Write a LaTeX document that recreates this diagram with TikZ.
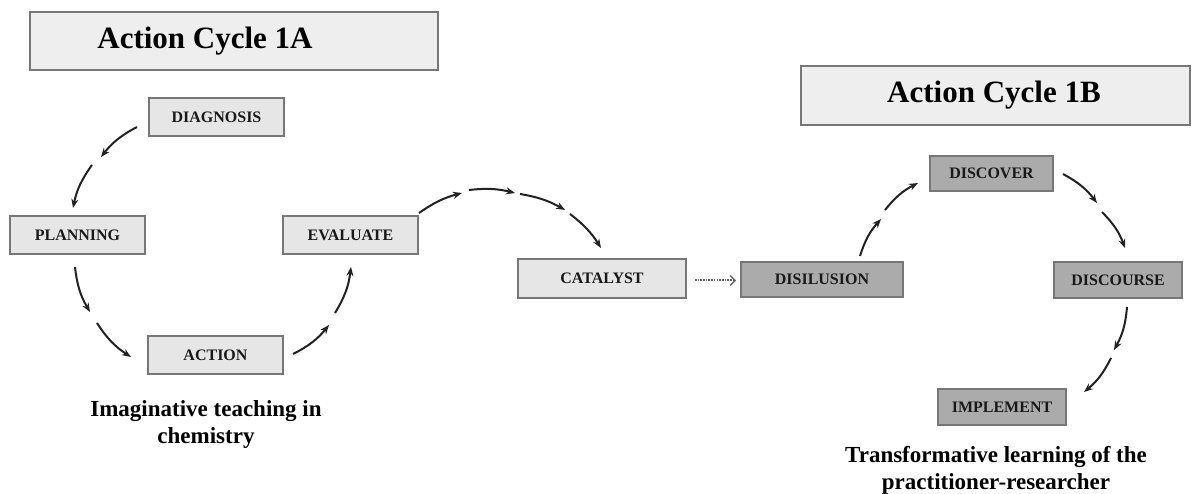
\documentclass[tikz,border=0pt]{standalone}
\usepackage{fontspec}
\setmainfont{Liberation Serif}
\usetikzlibrary{arrows.meta,calc}
\definecolor{lightbox}{HTML}{E6E6E6}
\definecolor{titlebox}{HTML}{EEEEEE}
\definecolor{darkbox}{HTML}{ABABAB}
\definecolor{edgegray}{HTML}{777777}
\definecolor{ink}{HTML}{222222}
\tikzset{
  stepbox/.style={draw=edgegray, line width=1.9pt, fill=lightbox, inner sep=0pt,
     font=\fontsize{16}{18}\selectfont\bfseries, text=black!90},
  darkstep/.style={stepbox, fill=darkbox},
  titlebox/.style={draw=edgegray, line width=1.9pt, fill=titlebox, inner sep=0pt},
  titletext/.style={font=\fontsize{31}{35}\selectfont\bfseries, text=black},
  subtext/.style={font=\fontsize{23}{27}\selectfont\bfseries, align=center, text=black},
  arr/.style={draw=ink, line width=2pt, -{Stealth[length=9pt,width=7pt]}},
  dotarr/.style={draw=black!60, line width=2pt, dash pattern=on 1.6pt off 1.1pt, -{Straight Barb[length=5pt,width=10pt,line width=1.3pt]}}
}
\begin{document}
\begin{tikzpicture}[x=1pt,y=1pt]
\useasboundingbox (0,0) rectangle (1192,-494);
% titles
\node[titlebox, minimum width=408, minimum height=58] (t1a) at (234,-41) {};
\node[titletext] (t1atxt) at (205,-41) {Action Cycle 1A};
\node[titlebox, minimum width=389, minimum height=59] (t1b) at (995.5,-95.5) {};
\node[titletext] (t1btxt) at (994,-95) {Action Cycle 1B};
% cycle 1A
\node[stepbox, minimum width=135, minimum height=38] (diag) at (216.5,-117) {DIAGNOSIS};
\node[stepbox, minimum width=135, minimum height=38] (plan) at (77.5,-235) {PLANNING};
\node[stepbox, minimum width=135, minimum height=38] (eval) at (350.5,-235) {EVALUATE};
\node[stepbox, minimum width=135, minimum height=38] (act) at (215.5,-355) {ACTION};
\node[stepbox, minimum width=168, minimum height=39] (cat) at (602,-278.5) {CATALYST};
% cycle 1B
\node[darkstep, minimum width=162, minimum height=35] (dis) at (822,-279.5) {DISILUSION};
\node[darkstep, minimum width=123, minimum height=35] (disc) at (991.5,-173.5) {DISCOVER};
\node[darkstep, minimum width=128, minimum height=36] (dcrs) at (1118,-280) {DISCOURSE};
\node[darkstep, minimum width=128, minimum height=36] (impl) at (1002,-407) {IMPLEMENT};
% captions
\node[subtext] (cap1) at (206,-425) {Imaginative teaching in\\chemistry};
\node[subtext] (cap2) at (996,-470) {Transformative learning of the\\practitioner-researcher};
% connector points
\coordinate (a1a) at (137,-127); \coordinate (a1b) at (101,-157);
\coordinate (a1c) at (92,-165);  \coordinate (a1d) at (73,-208);
\coordinate (a2a) at (75,-267);  \coordinate (a2b) at (90,-312);
\coordinate (a2c) at (97,-323);  \coordinate (a2d) at (131,-357);
\coordinate (a3a) at (293,-354); \coordinate (a3b) at (329,-325);
\coordinate (a3c) at (335,-313); \coordinate (a3d) at (351,-267);
\coordinate (a4a) at (419,-213); \coordinate (a4b) at (462,-193);
\coordinate (a4c) at (469,-190); \coordinate (a4d) at (515,-193);
\coordinate (a4e) at (520,-194); \coordinate (a4f) at (565,-210);
\coordinate (a4g) at (570,-214); \coordinate (a4h) at (601,-248);
\coordinate (a5a) at ($(cat.east)+(8,-2)$);
\coordinate (a5b) at ($(dis.west)+(-4,-1)$);
\coordinate (a6a) at (860,-256); \coordinate (a6b) at (881,-219);
\coordinate (a6c) at (885,-210); \coordinate (a6d) at (918,-183);
\coordinate (a7a) at (1063,-174); \coordinate (a7b) at (1097,-203);
\coordinate (a7c) at (1102,-212); \coordinate (a7d) at (1125,-248);
\coordinate (a8a) at (1127,-307); \coordinate (a8b) at (1114,-350);
\coordinate (a8c) at (1111,-358); \coordinate (a8d) at (1084,-392);
% connectors
\draw[arr] (a1a) to[bend right=12] (a1b);
\draw[arr] (a1c) to[bend right=12] (a1d);
\draw[arr] (a2a) to[bend right=12] (a2b);
\draw[arr] (a2c) to[bend right=12] (a2d);
\draw[arr] (a3a) to[bend right=12] (a3b);
\draw[arr] (a3c) to[bend right=12] (a3d);
\draw[arr] (a4a) to[bend left=10] (a4b);
\draw[arr] (a4c) to[bend left=10] (a4d);
\draw[arr] (a4e) to[bend left=10] (a4f);
\draw[arr] (a4g) to[bend left=10] (a4h);
\draw[dotarr] (a5a) -- (a5b);
\draw[arr] (a6a) to[bend left=12] (a6b);
\draw[arr] (a6c) to[bend left=12] (a6d);
\draw[arr] (a7a) to[bend left=12] (a7b);
\draw[arr] (a7c) to[bend left=12] (a7d);
\draw[arr] (a8a) to[bend left=12] (a8b);
\draw[arr] (a8c) to[bend left=12] (a8d);
\end{tikzpicture}
\end{document}
